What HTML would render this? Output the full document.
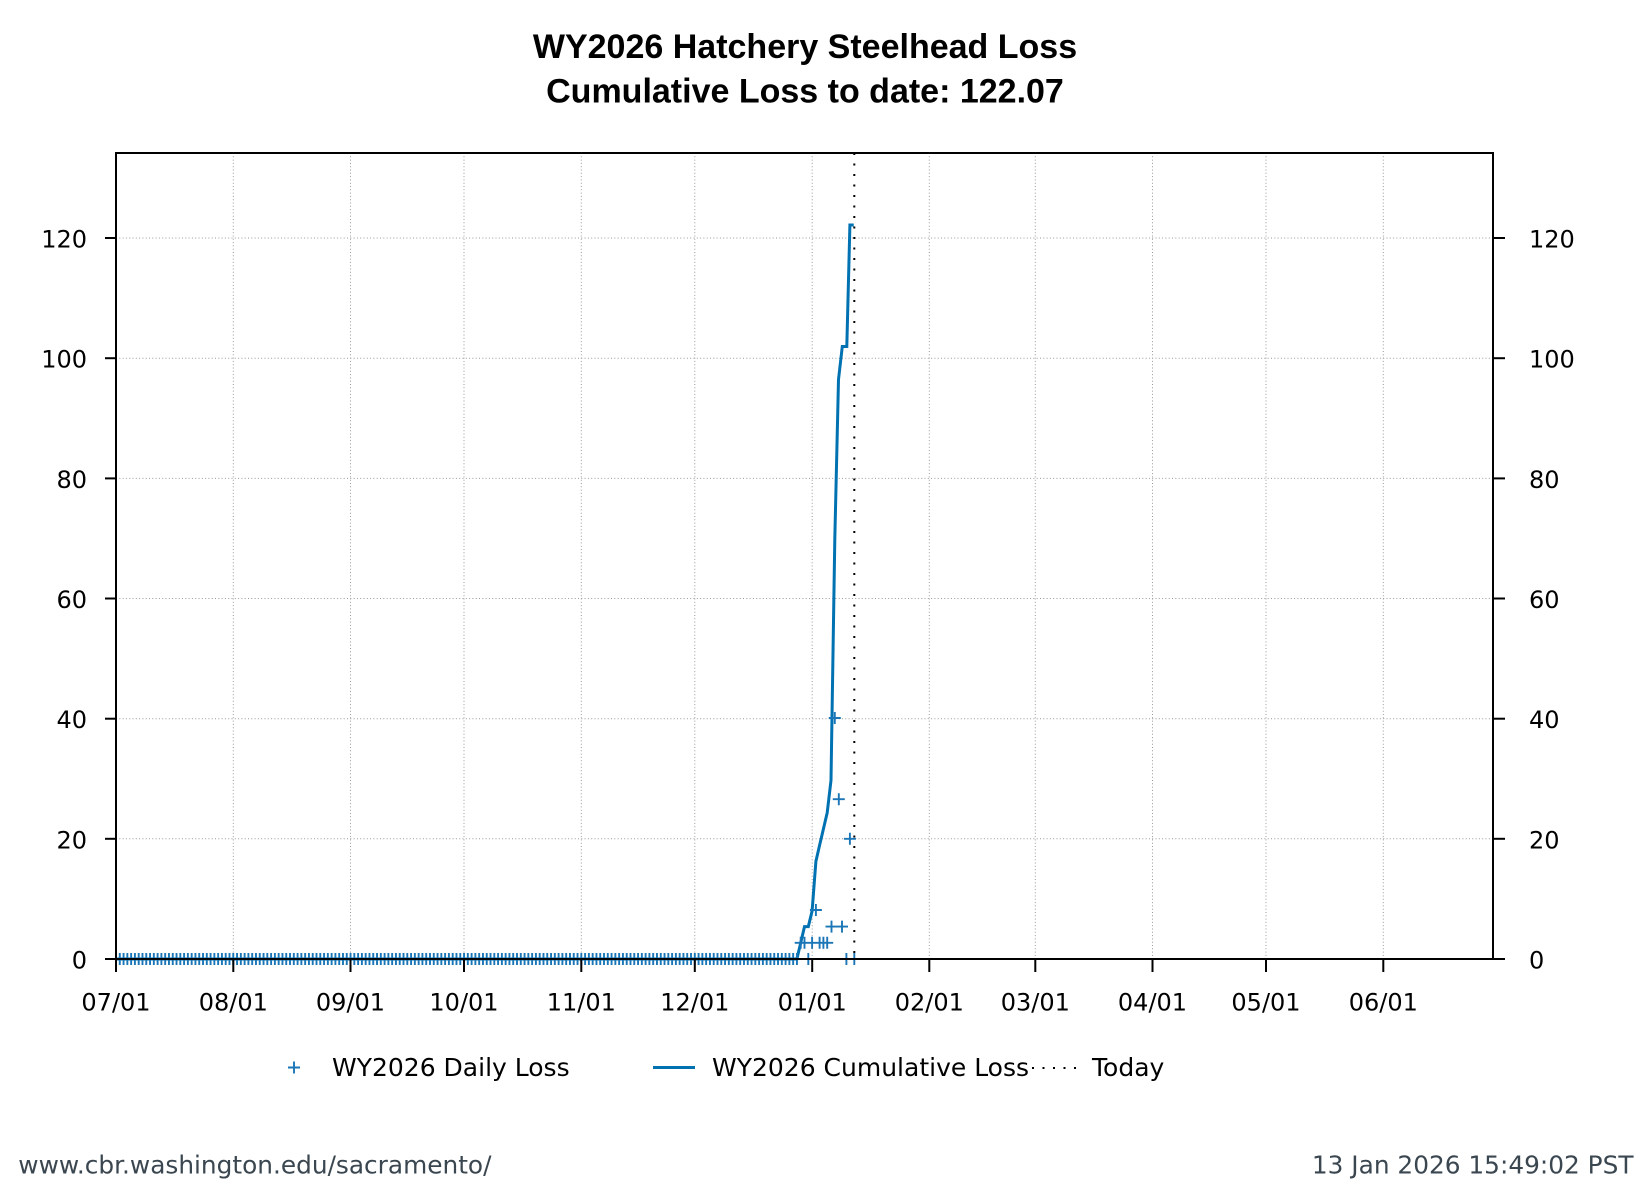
<!DOCTYPE html>
<html>
<head>
<meta charset="utf-8">
<style>
  html, body { margin:0; padding:0; background:#ffffff; }
  svg { display:block; }
  .tk { font-family: "DejaVu Sans", "Liberation Sans", sans-serif; font-size:24px; fill:#000; }
  .lg { font-family: "DejaVu Sans", "Liberation Sans", sans-serif; font-size:25px; fill:#000; }
  .ft { font-family: "DejaVu Sans", "Liberation Sans", sans-serif; font-size:24.8px; fill:#3b4750; }
  .tt { font-family: "Liberation Sans", "DejaVu Sans", sans-serif; font-size:34px; font-weight:bold; fill:#000; }
</style>
</head>
<body>
<svg width="1650" height="1200" viewBox="0 0 1650 1200" xmlns="http://www.w3.org/2000/svg">
  <rect x="0" y="0" width="1650" height="1200" fill="#ffffff"/>

  <!-- Title -->
  <text class="tt" x="805" y="58" text-anchor="middle">WY2026 Hatchery Steelhead Loss</text>
  <text class="tt" x="805" y="102.5" text-anchor="middle">Cumulative Loss to date: 122.07</text>

  <!-- Grid -->
  <g stroke="#9a9a9a" stroke-width="1" stroke-dasharray="1 2.3" fill="none">
    <line x1="116" y1="838.8" x2="1493" y2="838.8"/>
    <line x1="116" y1="718.7" x2="1493" y2="718.7"/>
    <line x1="116" y1="598.5" x2="1493" y2="598.5"/>
    <line x1="116" y1="478.4" x2="1493" y2="478.4"/>
    <line x1="116" y1="358.2" x2="1493" y2="358.2"/>
    <line x1="116" y1="238.0" x2="1493" y2="238.0"/>
    <line x1="233.3" y1="153" x2="233.3" y2="959"/>
    <line x1="350.5" y1="153" x2="350.5" y2="959"/>
    <line x1="464.0" y1="153" x2="464.0" y2="959"/>
    <line x1="581.3" y1="153" x2="581.3" y2="959"/>
    <line x1="694.8" y1="153" x2="694.8" y2="959"/>
    <line x1="812.2" y1="153" x2="812.2" y2="959"/>
    <line x1="929.3" y1="153" x2="929.3" y2="959"/>
    <line x1="1035.3" y1="153" x2="1035.3" y2="959"/>
    <line x1="1152.5" y1="153" x2="1152.5" y2="959"/>
    <line x1="1266.0" y1="153" x2="1266.0" y2="959"/>
    <line x1="1383.3" y1="153" x2="1383.3" y2="959"/>
  </g>

  <!-- Cumulative line -->
  <polyline fill="none" stroke="#0072b2" stroke-width="3" stroke-linejoin="miter"
    points="116,959 796.9,959 800.7,942.8 804.5,926.6 808.3,926.6 812.1,911 815.9,861.4 819.6,845.2 823.4,829.0 827.2,812.7 831.0,780.3 834.8,539.3 838.5,379.5 842.3,346.5 846.8,346.5 849.9,225 853.7,225"/>

  <!-- Daily loss markers -->
  <g stroke="#1a76b6" stroke-width="1.9" fill="none">
    <line x1="110" y1="959" x2="803" y2="959"/>
    <line x1="115.05" y1="959" x2="797.9" y2="959" stroke-width="12" stroke-dasharray="1.9 1.883"/>
    <path d="
      M794.7,942.8 h12 M800.7,936.8 v12
      M798.5,942.8 h12 M804.5,936.8 v12
      M802.3,959 h12 M808.3,953 v12
      M806.1,942.8 h12 M812.1,936.8 v12
      M809.9,910 h12 M815.9,904 v12
      M813.6,942.8 h12 M819.6,936.8 v12
      M817.4,942.8 h12 M823.4,936.8 v12
      M821.2,942.8 h12 M827.2,936.8 v12
      M825.5,926.6 h12 M831.5,920.6 v12
      M828.8,718 h12 M834.8,712 v12
      M832.8,799.2 h12 M838.8,793.2 v12
      M836.0,926.6 h12 M842.0,920.6 v12
      M840.4,959 h12 M846.4,953 v12
      M843.9,838.8 h12 M849.9,832.8 v12
      M848.3,959 h12 M854.3,953 v12
    "/>
  </g>

  <!-- Today line -->
  <line x1="854.3" y1="153" x2="854.3" y2="959" stroke="#000" stroke-width="2" stroke-dasharray="2 8.5"/>

  <!-- Axes frame -->
  <rect x="116" y="153" width="1377" height="806" fill="none" stroke="#000" stroke-width="2"/>

  <!-- Ticks -->
  <g stroke="#000" stroke-width="2">
    <line x1="105" y1="959" x2="116" y2="959"/>
    <line x1="105" y1="838.8" x2="116" y2="838.8"/>
    <line x1="105" y1="718.7" x2="116" y2="718.7"/>
    <line x1="105" y1="598.5" x2="116" y2="598.5"/>
    <line x1="105" y1="478.4" x2="116" y2="478.4"/>
    <line x1="105" y1="358.2" x2="116" y2="358.2"/>
    <line x1="105" y1="238.0" x2="116" y2="238.0"/>
    <line x1="1493" y1="959" x2="1505" y2="959"/>
    <line x1="1493" y1="838.8" x2="1505" y2="838.8"/>
    <line x1="1493" y1="718.7" x2="1505" y2="718.7"/>
    <line x1="1493" y1="598.5" x2="1505" y2="598.5"/>
    <line x1="1493" y1="478.4" x2="1505" y2="478.4"/>
    <line x1="1493" y1="358.2" x2="1505" y2="358.2"/>
    <line x1="1493" y1="238.0" x2="1505" y2="238.0"/>
    <line x1="116" y1="959" x2="116" y2="972"/>
    <line x1="233.3" y1="959" x2="233.3" y2="972"/>
    <line x1="350.5" y1="959" x2="350.5" y2="972"/>
    <line x1="464.0" y1="959" x2="464.0" y2="972"/>
    <line x1="581.3" y1="959" x2="581.3" y2="972"/>
    <line x1="694.8" y1="959" x2="694.8" y2="972"/>
    <line x1="812.2" y1="959" x2="812.2" y2="972"/>
    <line x1="929.3" y1="959" x2="929.3" y2="972"/>
    <line x1="1035.3" y1="959" x2="1035.3" y2="972"/>
    <line x1="1152.5" y1="959" x2="1152.5" y2="972"/>
    <line x1="1266.0" y1="959" x2="1266.0" y2="972"/>
    <line x1="1383.3" y1="959" x2="1383.3" y2="972"/>
  </g>

  <!-- Y labels left -->
  <g class="tk" text-anchor="end">
    <text x="87" y="968.5">0</text>
    <text x="87" y="848.3">20</text>
    <text x="87" y="728.2">40</text>
    <text x="87" y="608.0">60</text>
    <text x="87" y="487.9">80</text>
    <text x="87" y="367.7">100</text>
    <text x="87" y="247.5">120</text>
  </g>
  <!-- Y labels right -->
  <g class="tk" text-anchor="start">
    <text x="1529" y="968.5">0</text>
    <text x="1529" y="848.3">20</text>
    <text x="1529" y="728.2">40</text>
    <text x="1529" y="608.0">60</text>
    <text x="1529" y="487.9">80</text>
    <text x="1529" y="367.7">100</text>
    <text x="1529" y="247.5">120</text>
  </g>

  <!-- X labels -->
  <g class="tk" text-anchor="middle">
    <text x="116" y="1010.5">07/01</text>
    <text x="233.3" y="1010.5">08/01</text>
    <text x="350.5" y="1010.5">09/01</text>
    <text x="464.0" y="1010.5">10/01</text>
    <text x="581.3" y="1010.5">11/01</text>
    <text x="694.8" y="1010.5">12/01</text>
    <text x="812.2" y="1010.5">01/01</text>
    <text x="929.3" y="1010.5">02/01</text>
    <text x="1035.3" y="1010.5">03/01</text>
    <text x="1152.5" y="1010.5">04/01</text>
    <text x="1266.0" y="1010.5">05/01</text>
    <text x="1383.3" y="1010.5">06/01</text>
  </g>

  <!-- Legend -->
  <path d="M288,1067.5 h12 M294,1061.5 v12" stroke="#1a76b6" stroke-width="1.9" fill="none"/>
  <text class="lg" x="332" y="1076">WY2026 Daily Loss</text>
  <line x1="653" y1="1067.5" x2="695" y2="1067.5" stroke="#0072b2" stroke-width="3"/>
  <text class="lg" x="712" y="1076">WY2026 Cumulative Loss</text>
  <line x1="1032" y1="1068" x2="1078" y2="1068" stroke="#000" stroke-width="2" stroke-dasharray="2 8.5"/>
  <text class="lg" x="1092" y="1076">Today</text>

  <!-- Footer -->
  <text class="ft" x="18.3" y="1173.3">www.cbr.washington.edu/sacramento/</text>
  <text class="ft" x="1633.5" y="1173.3" text-anchor="end">13 Jan 2026 15:49:02 PST</text>
</svg>
</body>
</html>
